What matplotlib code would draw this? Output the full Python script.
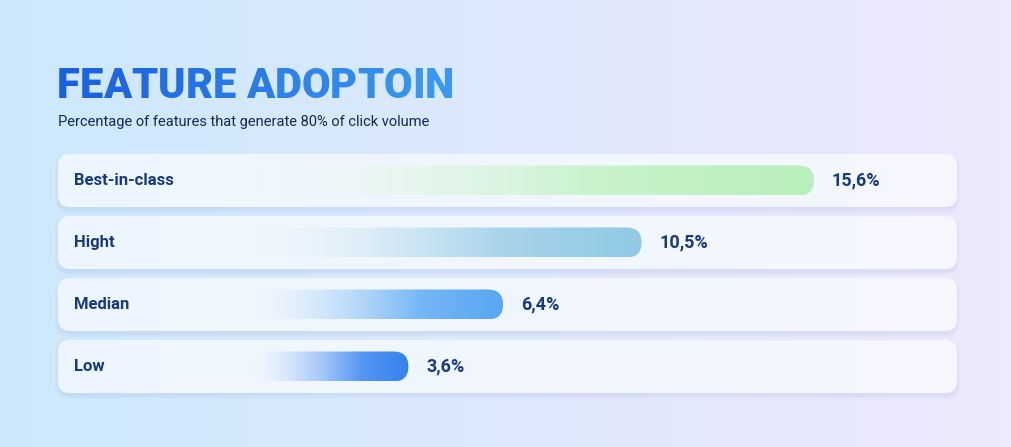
import numpy as np
import matplotlib.pyplot as plt
from matplotlib.patches import FancyBboxPatch
from matplotlib.colors import to_rgb

# données du graphique
categories = ["Best-in-class", "Hight", "Median", "Low"]
values = [15.6, 10.5, 6.4, 3.6]
value_labels = ["15,6%", "10,5%", "6,4%", "3,6%"]
bar_colors = ["#b8efbc", "#8fc8e5", "#52a4f2", "#2a7bef"]

title = "FEATURE ADOPTOIN"
subtitle = "Percentage of features that generate 80% of click volume"

W, H = 1011, 447
NAVY = "#173a7c"


def hgradient(c_left, c_right, n=256):
    a = np.array(to_rgb(c_left))
    b = np.array(to_rgb(c_right))
    t = np.linspace(0, 1, n)[None, :, None]
    return a + (b - a) * t


fig = plt.figure(figsize=(W / 100, H / 100), dpi=100)

# fond en pixels
bg = fig.add_axes([0, 0, 1, 1])
bg.set_xlim(0, W)
bg.set_ylim(H, 0)
bg.axis("off")
bg.imshow(hgradient("#cde8fc", "#eee9fd"), extent=[0, W, H, 0], aspect="auto", zorder=0)

# axe des données : meme emprise que la figure
ax = fig.add_axes([0, 0, 1, 1])
ax.patch.set_alpha(0)
ax.axis("off")
px0, ppu = 286.7, 33.8          # pixel du zéro, pixels par point de %
row0, rowh = 180.5, 62.0        # centre de la première ligne, pas
ax.set_xlim((0 - px0) / ppu, (W - px0) / ppu)
ax.set_ylim((H - row0) / rowh, (0 - row0) / rowh)

# cartes (en pixels)
card_x0, card_x1, card_h = 58, 957, 53
for i in range(len(categories)):
    top = row0 + rowh * i - card_h / 2
    for k in range(4):
        sh = FancyBboxPatch((card_x0 - k, top + 3 - k), card_x1 - card_x0 + 2 * k, card_h + 2 * k,
                            boxstyle="round,pad=0,rounding_size=%d" % (12 + k),
                            fc="#8a96d8", ec="none", alpha=0.035, zorder=1)
        bg.add_patch(sh)
    card = FancyBboxPatch((card_x0, top), card_x1 - card_x0, card_h,
                          boxstyle="round,pad=0,rounding_size=12",
                          fc="none", ec="none", zorder=2)
    bg.add_patch(card)
    im = bg.imshow(hgradient("#edf6fe", "#f6f7fe"), extent=[card_x0, card_x1, top + card_h, top],
                   aspect="auto", zorder=2)
    im.set_clip_path(card)

# barres avec dégradé transparent -> couleur
bar_left = -1.0
bar_h = 30 / rowh
rad_x = 15 / ppu
for i, (v, c) in enumerate(zip(values, bar_colors)):
    clip = FancyBboxPatch((bar_left, i - bar_h / 2), v - bar_left, bar_h,
                          boxstyle="round,pad=0,rounding_size=%f" % rad_x,
                          mutation_aspect=ppu / rowh, fc="none", ec="none", zorder=3)
    ax.add_patch(clip)
    n = 256
    t = np.linspace(0, 1, n)
    rgb = np.array(to_rgb("#ffffff")) + (np.array(to_rgb(c)) - 1) * np.sqrt(t)[:, None]
    rgba = np.ones((1, n, 4))
    rgba[0, :, :3] = rgb
    rgba[0, :, 3] = np.clip(t * 1.6, 0, 1)
    im = ax.imshow(rgba, extent=[bar_left, v + 0.5, i + bar_h / 2, i - bar_h / 2],
                   aspect="auto", zorder=3)
    im.set_clip_path(clip)
    ax.text(v + 18 / ppu, i, value_labels[i], ha="left", va="center",
            fontsize=13, fontweight="bold", family="Roboto", color=NAVY, zorder=4)
    ax.text((74 - px0) / ppu, i, categories[i], ha="left", va="center",
            fontsize=12, fontweight="bold", family="Roboto", color=NAVY, zorder=4)

ax.set_xlim((0 - px0) / ppu, (W - px0) / ppu)
ax.set_ylim((H - row0) / rowh, (0 - row0) / rowh)

# titre en dégradé : un mot par texte, couleur selon la position
renderer = fig.canvas.get_renderer()
tstyle = dict(fontsize=30, fontweight="heavy", family="Roboto")
probe = fig.text(0, 0, title, **tstyle)
full_w = probe.get_window_extent(renderer).width
c_a, c_b = np.array(to_rgb("#1a5fe0")), np.array(to_rgb("#3a9df3"))
for k, ch in enumerate(title):
    if k:
        probe.set_text(title[:k])
        off = probe.get_window_extent(renderer).width
    else:
        off = 0
    if ch == " ":
        continue
    t = off / full_w
    fig.text((57 + off) / W, 1 - 98 / H, ch, ha="left", va="baseline",
             color=tuple(c_a + (c_b - c_a) * t), **tstyle)
probe.remove()

fig.text(58 / W, 1 - 126 / H, subtitle, ha="left", va="baseline", fontsize=10.5,
         family="Roboto", color="#18275a")

fig.savefig("out.png", dpi=100)
